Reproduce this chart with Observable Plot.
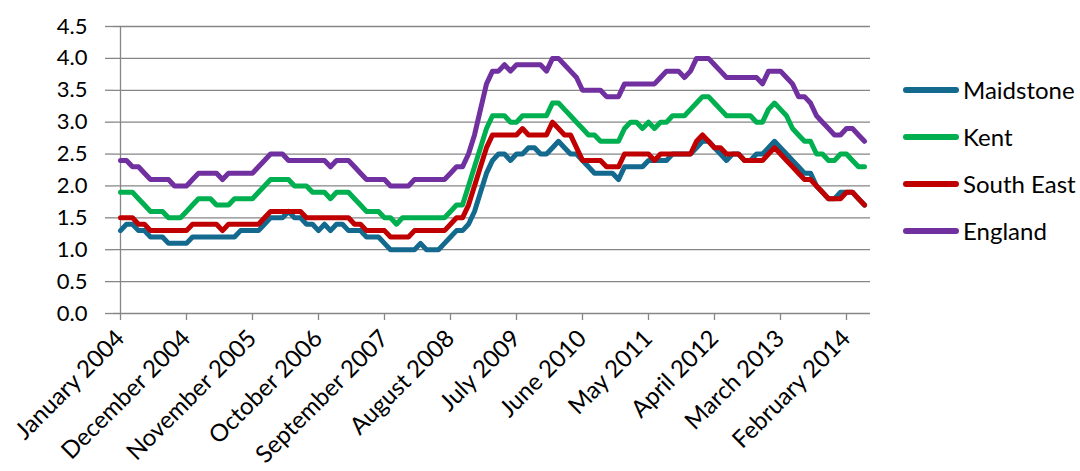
<!DOCTYPE html>
<html>
<head>
<meta charset="utf-8">
<script src="https://cdn.jsdelivr.net/npm/d3@7"></script>
<script src="https://cdn.jsdelivr.net/npm/@observablehq/plot@0.6"></script>
<style>
  body { margin: 0; background: #fff; }
  #wrap { position: relative; width: 1080px; height: 471px; background: #fff; }
  #legend { position: absolute; left: 903px; top: 66px; font-family: Lato, "Open Sans", sans-serif; font-size: 24px; color: #000; }
  .item { display: flex; align-items: center; height: 47px; }
  .sw { width: 56px; height: 6px; border-radius: 3px; margin-right: 4px; }
</style>
</head>
<body>
<div id="wrap"></div>
<script>
// ---- categories (monthly, Jan 2004 .. May 2014) ----
const monthNames = ["January","February","March","April","May","June","July","August","September","October","November","December"];
const startYear = 2004;
const nMonths = 125;
const categories = d3.range(nMonths).map(i => monthNames[i % 12] + " " + (startYear + Math.floor(i / 12)));

// ---- tick labels ----
const tickLabels = ["January 2004","December 2004","November 2005","October 2006","September 2007","August 2008","July 2009","June 2010","May 2011","April 2012","March 2013","February 2014"];
const yTicks = [0, 0.5, 1, 1.5, 2, 2.5, 3, 3.5, 4, 4.5];

// ---- series ----
const seriesNames = ["Maidstone", "Kent", "South East", "England"];
const seriesColors = ["#146A8E", "#00B050", "#C00000", "#7030A0"];

const maidstone = [
1.3,1.4,1.4,1.3,1.3,1.2,1.2,1.2,1.1,1.1,1.1,1.1,
1.2,1.2,1.2,1.2,1.2,1.2,1.2,1.2,1.3,1.3,1.3,1.3,
1.4,1.5,1.5,1.5,1.6,1.5,1.5,1.4,1.4,1.3,1.4,1.3,
1.4,1.4,1.3,1.3,1.3,1.2,1.2,1.2,1.1,1.0,1.0,1.0,
1.0,1.0,1.1,1.0,1.0,1.0,1.1,1.2,1.3,1.3,1.4,1.6,
1.9,2.2,2.4,2.5,2.5,2.4,2.5,2.5,2.6,2.6,2.5,2.5,
2.6,2.7,2.6,2.5,2.5,2.4,2.3,2.2,2.2,2.2,2.2,2.1,
2.3,2.3,2.3,2.3,2.4,2.4,2.4,2.4,2.5,2.5,2.5,2.5,
2.6,2.7,2.7,2.6,2.5,2.4,2.5,2.5,2.4,2.4,2.5,2.5,
2.6,2.7,2.6,2.5,2.4,2.3,2.2,2.2,2.0,1.9,1.8,1.8,
1.9,1.9,1.9,1.8,1.7];

const kent = [
1.9,1.9,1.9,1.8,1.7,1.6,1.6,1.6,1.5,1.5,1.5,1.6,
1.7,1.8,1.8,1.8,1.7,1.7,1.7,1.8,1.8,1.8,1.8,1.9,
2.0,2.1,2.1,2.1,2.1,2.0,2.0,2.0,1.9,1.9,1.9,1.8,
1.9,1.9,1.9,1.8,1.7,1.6,1.6,1.6,1.5,1.5,1.4,1.5,
1.5,1.5,1.5,1.5,1.5,1.5,1.5,1.6,1.7,1.7,2.0,2.3,
2.6,2.9,3.1,3.1,3.1,3.0,3.0,3.1,3.1,3.1,3.1,3.1,
3.3,3.3,3.2,3.1,3.0,2.9,2.8,2.8,2.7,2.7,2.7,2.7,
2.9,3.0,3.0,2.9,3.0,2.9,3.0,3.0,3.1,3.1,3.1,3.2,
3.3,3.4,3.4,3.3,3.2,3.1,3.1,3.1,3.1,3.1,3.0,3.0,
3.2,3.3,3.2,3.1,2.9,2.8,2.7,2.7,2.5,2.5,2.4,2.4,
2.5,2.5,2.4,2.3,2.3];

const southEast = [
1.5,1.5,1.5,1.4,1.4,1.3,1.3,1.3,1.3,1.3,1.3,1.3,
1.4,1.4,1.4,1.4,1.4,1.3,1.4,1.4,1.4,1.4,1.4,1.4,
1.5,1.6,1.6,1.6,1.6,1.6,1.6,1.5,1.5,1.5,1.5,1.5,
1.5,1.5,1.5,1.4,1.4,1.3,1.3,1.3,1.3,1.2,1.2,1.2,
1.2,1.3,1.3,1.3,1.3,1.3,1.3,1.4,1.5,1.5,1.7,2.0,
2.3,2.6,2.8,2.8,2.8,2.8,2.8,2.9,2.8,2.8,2.8,2.8,
3.0,2.9,2.8,2.8,2.6,2.4,2.4,2.4,2.4,2.3,2.3,2.3,
2.5,2.5,2.5,2.5,2.5,2.4,2.5,2.5,2.5,2.5,2.5,2.5,
2.7,2.8,2.7,2.6,2.6,2.5,2.5,2.5,2.4,2.4,2.4,2.4,
2.5,2.6,2.5,2.4,2.3,2.2,2.1,2.1,2.0,1.9,1.8,1.8,
1.8,1.9,1.9,1.8,1.7];

const england = [
2.4,2.4,2.3,2.3,2.2,2.1,2.1,2.1,2.1,2.0,2.0,2.0,
2.1,2.2,2.2,2.2,2.2,2.1,2.2,2.2,2.2,2.2,2.2,2.3,
2.4,2.5,2.5,2.5,2.4,2.4,2.4,2.4,2.4,2.4,2.4,2.3,
2.4,2.4,2.4,2.3,2.2,2.1,2.1,2.1,2.1,2.0,2.0,2.0,
2.0,2.1,2.1,2.1,2.1,2.1,2.1,2.2,2.3,2.3,2.5,2.8,
3.2,3.6,3.8,3.8,3.9,3.8,3.9,3.9,3.9,3.9,3.9,3.8,
4.0,4.0,3.9,3.8,3.7,3.5,3.5,3.5,3.5,3.4,3.4,3.4,
3.6,3.6,3.6,3.6,3.6,3.6,3.7,3.8,3.8,3.8,3.7,3.8,
4.0,4.0,4.0,3.9,3.8,3.7,3.7,3.7,3.7,3.7,3.7,3.6,
3.8,3.8,3.8,3.7,3.6,3.4,3.4,3.3,3.1,3.0,2.9,2.8,
2.8,2.9,2.9,2.8,2.7];

const seriesValues = [maidstone, kent, southEast, england];
const data = seriesNames.flatMap((name, s) =>
  seriesValues[s].map((v, i) => ({ series: name, month: categories[i], value: v }))
);

const grey = "#868686";
const chart = Plot.plot({
  width: 1080,
  height: 471,
  marginLeft: 113,
  marginRight: 210,
  marginTop: 26,
  marginBottom: 158,
  style: { fontFamily: "Lato, 'Open Sans', sans-serif", fontSize: "22px", color: "#000", background: "#fff" },
  x: { type: "point", domain: categories, padding: 0 },
  y: { domain: [0, 4.5] },
  color: { domain: seriesNames, range: seriesColors },
  marks: [
    Plot.ruleY(yTicks.slice(1), { stroke: grey, strokeWidth: 1.3 }),
    Plot.ruleY([0], { stroke: grey, strokeWidth: 1.3 }),
    Plot.ruleX([categories[0]], { y1: 0, y2: 4.5, stroke: grey, strokeWidth: 1.3 }),
    Plot.axisY({ ticks: yTicks, tickFormat: d => d.toFixed(1), tickSize: 8, tickPadding: 18, stroke: grey, strokeWidth: 1.3, fill: "#000", fontSize: 22, label: null }),
    Plot.axisX({ ticks: tickLabels, tickSize: 7, tickPadding: 0, tickRotate: -45, stroke: grey, strokeWidth: 1.3, label: null, tickFormat: () => "" }),
    Plot.axisX({ ticks: tickLabels, tickSize: 0, tickPadding: 4, tickRotate: -45, fill: "#000", fontSize: 24, label: null, dy: 17, dx: 0 }),
    Plot.line(data, { x: "month", y: "value", z: "series", stroke: "series", strokeWidth: 5, strokeLinejoin: "round", strokeLinecap: "round" })
  ]
});

const wrap = document.getElementById("wrap");
wrap.appendChild(chart);
const legend = document.createElement("div");
legend.id = "legend";
seriesNames.forEach((name, s) => {
  const item = document.createElement("div");
  item.className = "item";
  const sw = document.createElement("div");
  sw.className = "sw";
  sw.style.background = seriesColors[s];
  const label = document.createElement("span");
  label.textContent = name;
  item.appendChild(sw);
  item.appendChild(label);
  legend.appendChild(item);
});
wrap.appendChild(legend);
</script>
</body>
</html>
